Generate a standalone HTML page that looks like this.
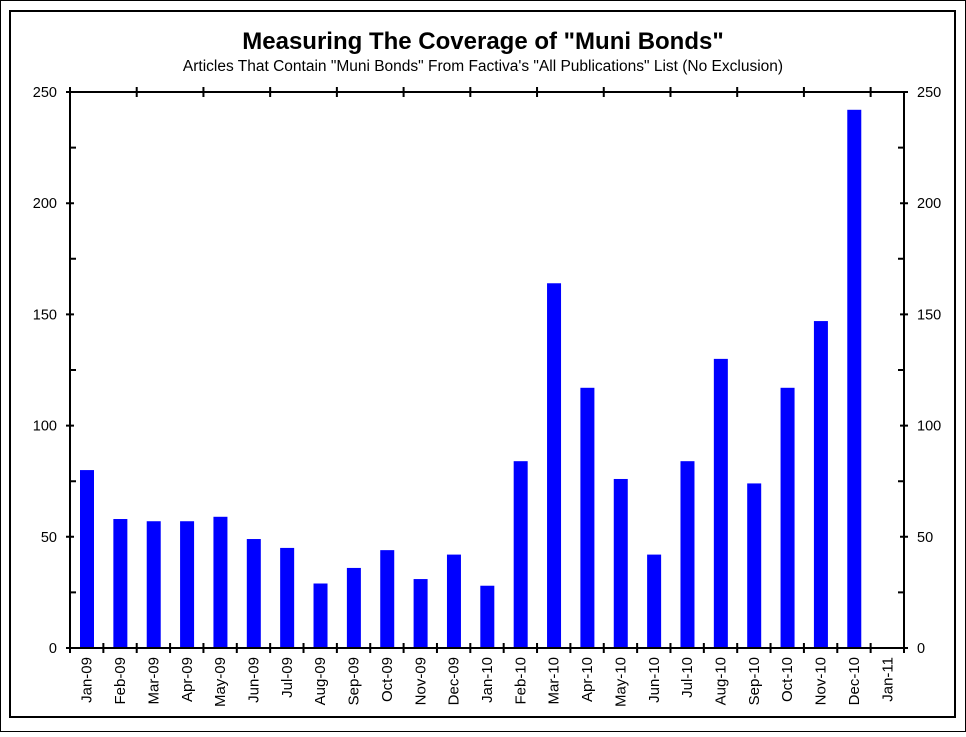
<!DOCTYPE html>
<html><head><meta charset="utf-8"><style>
html,body{margin:0;padding:0;background:#fff}
svg text{font-family:"Liberation Sans",Arial,sans-serif;fill:#000}
</style></head><body>
<svg width="966" height="732" xmlns="http://www.w3.org/2000/svg">
<rect x="0.5" y="0.5" width="965" height="731" fill="#fff" stroke="#000" stroke-width="1"/>
<rect x="10" y="11" width="945" height="706" fill="none" stroke="#000" stroke-width="2"/>
<text x="483" y="49" font-size="24" font-weight="bold" text-anchor="middle">Measuring The Coverage of "Muni Bonds"</text>
<text x="483" y="71" font-size="15.5" text-anchor="middle">Articles That Contain "Muni Bonds" From Factiva's "All Publications" List (No Exclusion)</text>
<g id="bars" fill="#0000ff"></g>
<g id="axes" stroke="#000" stroke-width="2" fill="none"></g>
<g id="labels" font-size="14.5"></g>
</svg>
<script>
var d=[80,58,57,57,59,49,45,29,36,44,31,42,28,84,164,117,76,42,84,130,74,117,147,242];
var m=["Jan","Feb","Mar","Apr","May","Jun","Jul","Aug","Sep","Oct","Nov","Dec"];
var L=70,R=904,T=92,B=648,w=(R-L)/25,k=(B-T)/250;
var ns="http://www.w3.org/2000/svg";
function el(p,t,a,tx){var e=document.createElementNS(ns,t);for(var i in a)e.setAttribute(i,a[i]);if(tx!==undefined)e.textContent=String(tx);document.getElementById(p).appendChild(e);}
d.forEach(function(v,i){el("bars","rect",{x:L+i*w+10,y:B-v*k,width:14,height:v*k});});
var p="M"+L+" "+T+"H"+R+"V"+B+"H"+L+"Z";
for(var i=0;i<=25;i++){var x=L+i*w;p+="M"+x+" "+(B-5)+"V"+(B+5);if(i%2==0)p+="M"+x+" "+(T-5)+"V"+(T+5);}
for(var v=0;v<=250;v+=25){var y=B-v*k;if(v%50==0){p+="M"+(L-4)+" "+y+"H"+(L+4)+"M"+(R-4)+" "+y+"H"+(R+4);
el("labels","text",{x:57,y:y+5,"text-anchor":"end"},v);el("labels","text",{x:917,y:y+5},v);}
else{p+="M"+L+" "+y+"H"+(L+6)+"M"+(R-6)+" "+y+"H"+R;}}
el("axes","path",{d:p});
for(var i=0;i<25;i++){var x=L+i*w+w/2+5,yr=9+Math.floor(i/12);
el("labels","text",{x:0,y:0,"text-anchor":"end",transform:"translate("+x+",657) rotate(-90)","font-size":"15"},m[i%12]+"-"+(yr<10?"0":"")+yr);}
</script>
</body></html>
